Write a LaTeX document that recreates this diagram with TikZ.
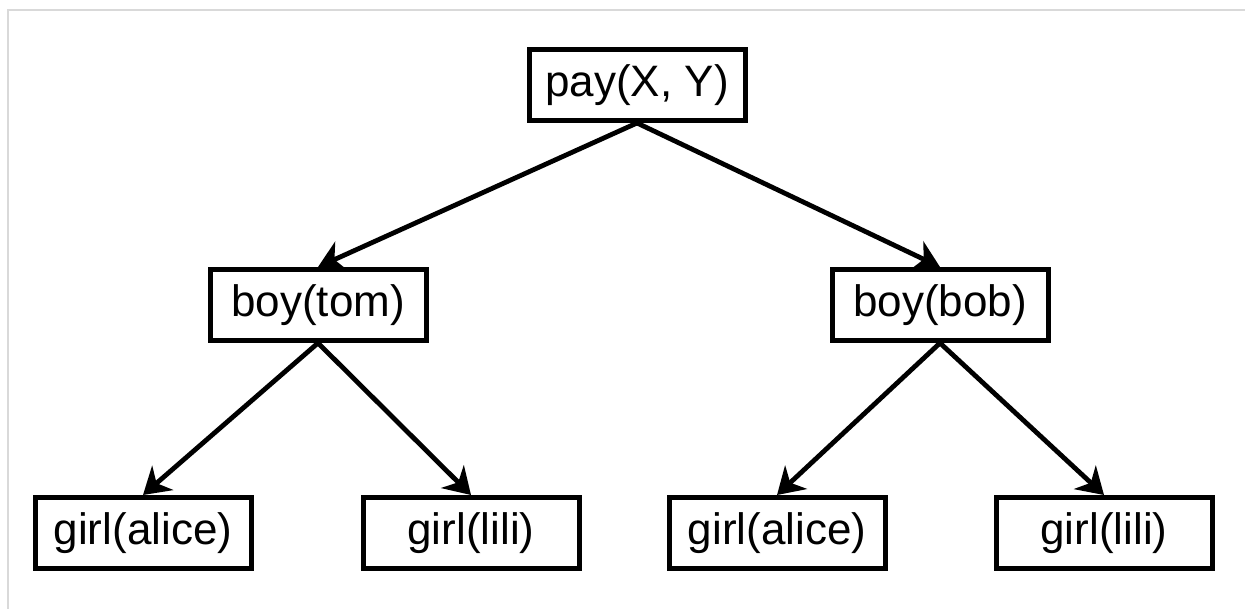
\documentclass[tikz,border=0pt]{standalone}
\usepackage{fontspec}
\setmainfont{Liberation Sans}
\usetikzlibrary{arrows.meta}

\tikzset{
	term/.style={draw, line width=2.5pt, minimum width=108pt, minimum height=35.5pt, inner sep=0pt, font=\fontsize{22}{26}\selectfont},
	link/.style={line width=2.4pt, -{Stealth[length=13pt, width=16pt, inset=4pt]}}
}

\begin{document}
\begin{tikzpicture}[x=0.5pt, y=-0.5pt]
	\useasboundingbox (0,0) rectangle (1245,609);
	\draw [line width=1pt, black!15] (8,609) -- (8,10) -- (1245,10); %
	
	\node [term] (pay) at (637,85) {pay(X, Y)};
	\node [term] (tom) at (318,305) {boy(tom)};
	\node [term] (bob) at (940,305) {boy(bob)};
	\node [term] (alice1) at (143,533) {girl(alice)};
	\node [term] (lili1) at (471,533) {girl(lili)};
	\node [term] (alice2) at (777,533) {girl(alice)};
	\node [term] (lili2) at (1104,533) {girl(lili)};
	
	\foreach \s/\t in {pay/tom, pay/bob, tom/alice1, tom/lili1, bob/alice2, bob/lili2}
	{
		\draw [link] (\s.south) -- (\t.north);
	}
	
\end{tikzpicture}
\end{document}
